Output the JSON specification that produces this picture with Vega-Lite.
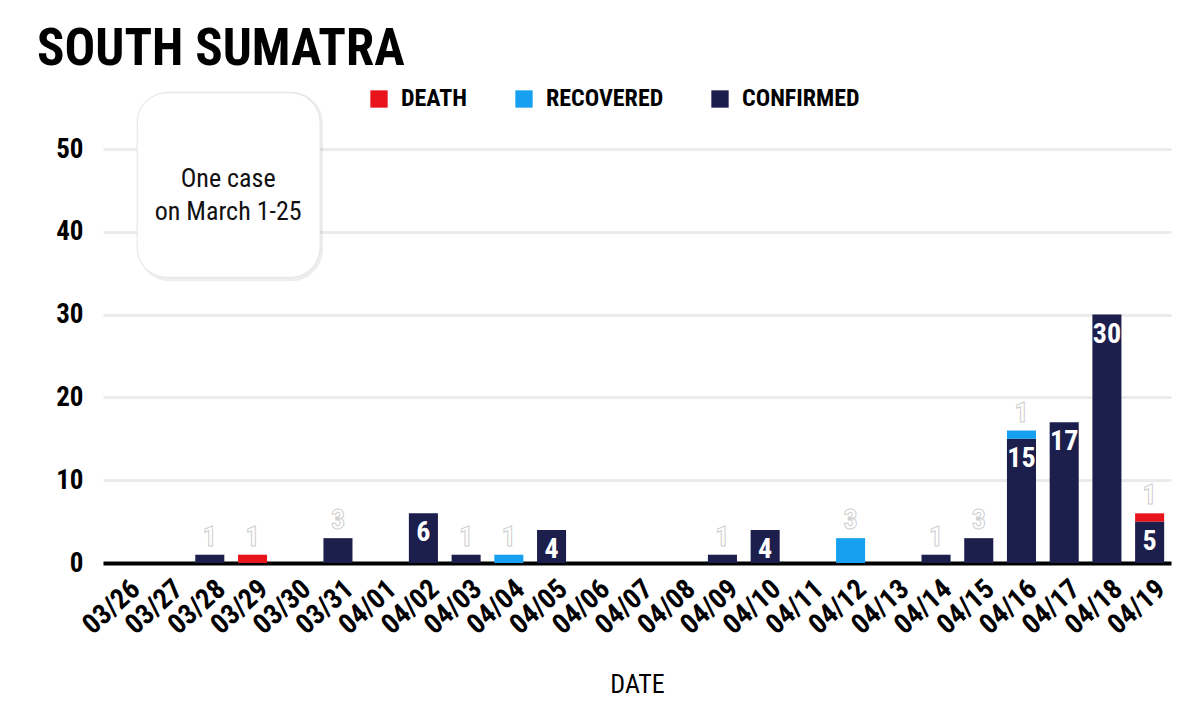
{
  "$schema": "https://vega.github.io/schema/vega-lite/v6.json",
  "width": 1068,
  "height": 414,
  "autosize": "none",
  "padding": {"left": 103, "top": 149, "right": 20, "bottom": 143},
  "background": "white",
  "config": {
    "view": {"stroke": null},
    "font": "Roboto Condensed",
    "axisY": {"labelPadding": 20},
    "axisLeft": {"labelPadding": 20}
  },
  "title": {
    "text": "SOUTH SUMATRA",
    "anchor": "start",
    "frame": "group",
    "fontSize": 51,
    "fontWeight": "bold",
    "color": "#000000",
    "font": "Roboto Condensed",
    "dx": -66,
    "offset": 11
  },
  "datasets": {
    "cases": [
      {"date": "03/28", "type": "CONFIRMED", "value": 1},
      {"date": "03/29", "type": "DEATH", "value": 1},
      {"date": "03/31", "type": "CONFIRMED", "value": 3},
      {"date": "04/02", "type": "CONFIRMED", "value": 6},
      {"date": "04/03", "type": "CONFIRMED", "value": 1},
      {"date": "04/04", "type": "RECOVERED", "value": 1},
      {"date": "04/05", "type": "CONFIRMED", "value": 4},
      {"date": "04/09", "type": "CONFIRMED", "value": 1},
      {"date": "04/10", "type": "CONFIRMED", "value": 4},
      {"date": "04/12", "type": "RECOVERED", "value": 3},
      {"date": "04/14", "type": "CONFIRMED", "value": 1},
      {"date": "04/15", "type": "CONFIRMED", "value": 3},
      {"date": "04/16", "type": "CONFIRMED", "value": 15},
      {"date": "04/16", "type": "RECOVERED", "value": 1},
      {"date": "04/17", "type": "CONFIRMED", "value": 17},
      {"date": "04/18", "type": "CONFIRMED", "value": 30},
      {"date": "04/19", "type": "CONFIRMED", "value": 5},
      {"date": "04/19", "type": "DEATH", "value": 1}
    ]
  },
  "resolve": {"scale": {"x": "independent", "y": "independent"}, "axis": {"x": "independent", "y": "independent"}},
  "layer": [
    {
      "data": {"name": "cases"},
      "transform": [
        {"stack": "value", "groupby": ["date"], "sort": [{"field": "type", "order": "ascending"}], "as": ["v0", "v1"]}
      ],
      "encoding": {
        "x": {
          "field": "date",
          "type": "nominal",
          "title": "DATE",
          "scale": {
            "domain": ["03/26","03/27","03/28","03/29","03/30","03/31","04/01","04/02","04/03","04/04","04/05","04/06","04/07","04/08","04/09","04/10","04/11","04/12","04/13","04/14","04/15","04/16","04/17","04/18","04/19"],
            "paddingInner": 0.32,
            "paddingOuter": 0.16
          },
          "axis": {
            "labelAngle": -42,
            "labelAlign": "right",
            "labelBaseline": "middle",
            "labelFont": "Roboto Condensed",
            "labelFontSize": 28,
            "labelFontWeight": "bold",
            "labelColor": "#000000",
            "labelPadding": 22,
            "labelOffset": 12,
            "labelOverlap": false,
            "ticks": false,
            "domain": true,
            "domainColor": "#000000",
            "domainWidth": 4,
            "grid": false,
            "titleFont": "Roboto Condensed",
            "titleFontSize": 26,
            "titleFontWeight": "normal",
            "titleColor": "#000000",
            "titleBaseline": "middle",
            "titleY": 121
          }
        },
        "y": {
          "field": "v1",
          "type": "quantitative",
          "title": null,
          "scale": {"domain": [0, 50], "nice": false},
          "axis": {
            "values": [0, 10, 20, 30, 40, 50],
            "grid": true,
            "gridColor": "#ebebeb",
            "gridWidth": 3,
            "domain": false,
            "ticks": false,
            "labelFont": "Roboto Condensed",
            "labelFontSize": 27,
            "labelFontWeight": "bold",
            "labelColor": "#000000",
            "labelPadding": 20
          }
        }
      },
      "layer": [
        {
          "mark": {"type": "bar"},
          "encoding": {
            "y2": {"field": "v0"},
            "color": {
              "field": "type",
              "type": "nominal",
              "scale": {"domain": ["DEATH", "RECOVERED", "CONFIRMED"], "range": ["#e8141b", "#17a0ef", "#1c1e4c"]},
              "legend": {
                "orient": "none",
                "direction": "horizontal",
                "legendX": 264,
                "legendY": -62,
                "title": null,
                "symbolType": "square",
                "symbolSize": 300,
                "symbolStrokeWidth": 0,
                "symbolOpacity": 1,
                "labelFont": "Roboto Condensed",
                "labelFontSize": 24,
                "labelFontWeight": "bold",
                "labelColor": "#000000",
                "labelOffset": 10,
                "columnPadding": 44,
                "labelLimit": 300
              }
            }
          }
        },
        {
          "transform": [{"filter": "datum.value >= 4"}],
          "mark": {"type": "text", "baseline": "top", "dy": 6, "fontSize": 28, "fontWeight": "bold", "fill": "#ffffff"},
          "encoding": {"text": {"field": "value", "type": "quantitative"}}
        },
        {
          "transform": [{"filter": "datum.value < 4"}],
          "mark": {"type": "text", "baseline": "bottom", "dy": -3, "fontSize": 28, "fontWeight": "bold", "fill": "#ffffff", "stroke": "#cfcfcf", "strokeWidth": 1},
          "encoding": {"text": {"field": "value", "type": "quantitative"}}
        }
      ]
    },
    {
      "data": {"values": [{}]},
      "encoding": {
        "x": {"datum": 0.8, "type": "quantitative", "scale": {"domain": [0, 25], "nice": false, "zero": false}, "axis": null},
        "x2": {"datum": 5.08},
        "y": {"datum": 34.5, "type": "quantitative", "scale": {"domain": [0, 50], "nice": false}, "axis": null},
        "y2": {"datum": 56.8}
      },
      "layer": [
        {
          "mark": {"type": "rect", "cornerRadius": 32, "fill": "#000000", "opacity": 0.07, "xOffset": 1, "x2Offset": 3, "yOffset": 4, "y2Offset": -1}
        },
        {
          "mark": {"type": "rect", "cornerRadius": 30, "fill": "#ffffff", "stroke": "#e4e4e4", "strokeWidth": 1}
        }
      ]
    },
    {
      "data": {"values": [{}]},
      "mark": {
        "type": "text",
        "text": ["One case", "on March 1-25"],
        "align": "center",
        "baseline": "middle",
        "font": "Roboto Condensed",
        "fontSize": 26,
        "lineHeight": 33,
        "fill": "#111111"
      },
      "encoding": {
        "x": {"datum": 2.93, "type": "quantitative", "scale": {"domain": [0, 25], "nice": false, "zero": false}, "axis": null},
        "y": {"datum": 46.4, "type": "quantitative", "scale": {"domain": [0, 50], "nice": false}, "axis": null}
      }
    }
  ]
}
